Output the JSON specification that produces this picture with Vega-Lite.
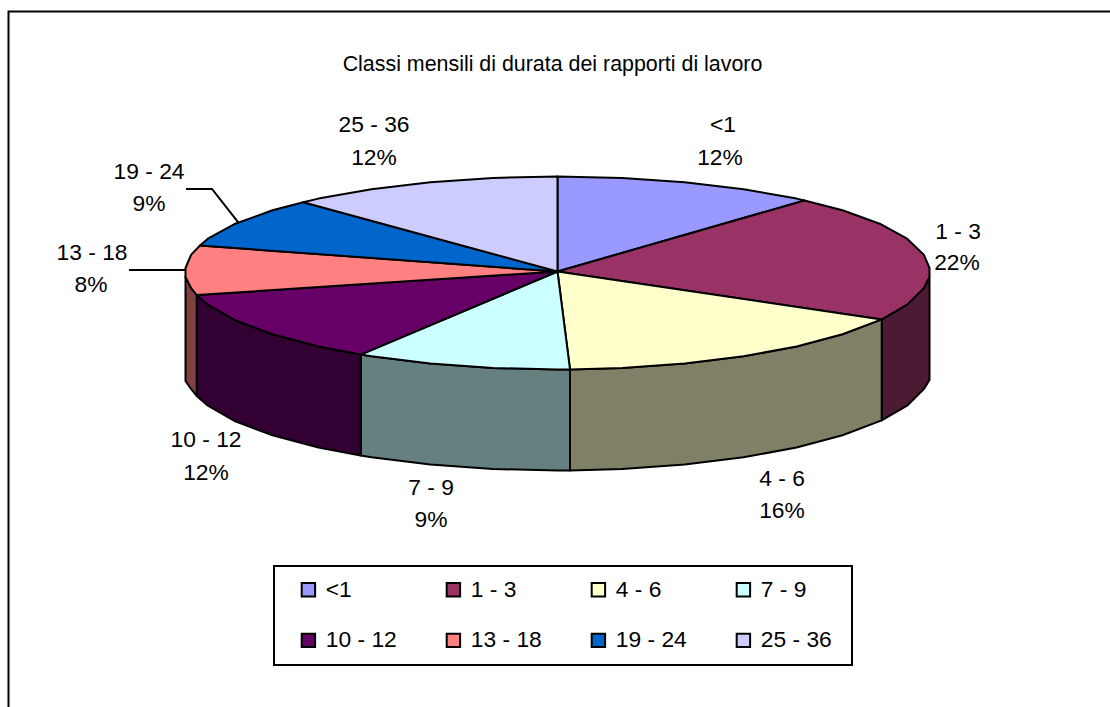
{
"$schema":"https://vega.github.io/schema/vega-lite/v6.json",
"width":1110,"height":707,"padding":0,
"autosize":{"type":"none"},
"background":"white",
"view":{"stroke":null},
"config":{"font":"Liberation Sans"},
"datasets":{
"tops":[
{"slice":"<1","seq":0,"x":557.5,"y":271.5},{"slice":"<1","seq":1,"x":557.5,"y":176.5},{"slice":"<1","seq":2,"x":622.1,"y":177.9},{"slice":"<1","seq":3,"x":684.7,"y":182.2},{"slice":"<1","seq":4,"x":743.5,"y":189.2},{"slice":"<1","seq":5,"x":796.6,"y":198.6},{"slice":"<1","seq":6,"x":804.5,"y":200.5},{"slice":"<1","seq":7,"x":557.5,"y":271.5},
{"slice":"1 - 3","seq":0,"x":557.5,"y":271.5},{"slice":"1 - 3","seq":1,"x":804.5,"y":200.5},{"slice":"1 - 3","seq":2,"x":842.5,"y":210.3},{"slice":"1 - 3","seq":3,"x":879.7,"y":223.7},{"slice":"1 - 3","seq":4,"x":907.1,"y":238.7},{"slice":"1 - 3","seq":5,"x":923.8,"y":254.6},{"slice":"1 - 3","seq":6,"x":929.5,"y":268},{"slice":"1 - 3","seq":7,"x":929.5,"y":277},{"slice":"1 - 3","seq":8,"x":923.8,"y":288.1},{"slice":"1 - 3","seq":9,"x":907.1,"y":304.7},{"slice":"1 - 3","seq":10,"x":881.7,"y":319.4},{"slice":"1 - 3","seq":11,"x":557.5,"y":271.5},
{"slice":"4 - 6","seq":0,"x":557.5,"y":271.5},{"slice":"4 - 6","seq":1,"x":881.7,"y":319.4},{"slice":"4 - 6","seq":2,"x":842.5,"y":334.3},{"slice":"4 - 6","seq":3,"x":796.6,"y":346.5},{"slice":"4 - 6","seq":4,"x":743.5,"y":356.3},{"slice":"4 - 6","seq":5,"x":684.7,"y":363.6},{"slice":"4 - 6","seq":6,"x":622.1,"y":368},{"slice":"4 - 6","seq":7,"x":570,"y":369.4},{"slice":"4 - 6","seq":8,"x":557.5,"y":271.5},
{"slice":"7 - 9","seq":0,"x":557.5,"y":271.5},{"slice":"7 - 9","seq":1,"x":570,"y":369.4},{"slice":"7 - 9","seq":2,"x":557.5,"y":369.5},{"slice":"7 - 9","seq":3,"x":492.9,"y":368},{"slice":"7 - 9","seq":4,"x":430.3,"y":363.6},{"slice":"7 - 9","seq":5,"x":371.5,"y":356.3},{"slice":"7 - 9","seq":6,"x":360.7,"y":354.6},{"slice":"7 - 9","seq":7,"x":557.5,"y":271.5},
{"slice":"10 - 12","seq":0,"x":557.5,"y":271.5},{"slice":"10 - 12","seq":1,"x":360.7,"y":354.6},{"slice":"10 - 12","seq":2,"x":318.4,"y":346.5},{"slice":"10 - 12","seq":3,"x":272.5,"y":334.3},{"slice":"10 - 12","seq":4,"x":235.3,"y":320.3},{"slice":"10 - 12","seq":5,"x":207.9,"y":304.7},{"slice":"10 - 12","seq":6,"x":196.7,"y":295},{"slice":"10 - 12","seq":7,"x":557.5,"y":271.5},
{"slice":"13 - 18","seq":0,"x":557.5,"y":271.5},{"slice":"13 - 18","seq":1,"x":196.7,"y":295},{"slice":"13 - 18","seq":2,"x":191.2,"y":288.1},{"slice":"13 - 18","seq":3,"x":185.5,"y":277},{"slice":"13 - 18","seq":4,"x":185.5,"y":268},{"slice":"13 - 18","seq":5,"x":191.2,"y":254.6},{"slice":"13 - 18","seq":6,"x":200,"y":245.5},{"slice":"13 - 18","seq":7,"x":557.5,"y":271.5},
{"slice":"19 - 24","seq":0,"x":557.5,"y":271.5},{"slice":"19 - 24","seq":1,"x":200,"y":245.5},{"slice":"19 - 24","seq":2,"x":207.9,"y":238.7},{"slice":"19 - 24","seq":3,"x":235.3,"y":223.7},{"slice":"19 - 24","seq":4,"x":272.5,"y":210.3},{"slice":"19 - 24","seq":5,"x":303.3,"y":202.3},{"slice":"19 - 24","seq":6,"x":557.5,"y":271.5},
{"slice":"25 - 36","seq":0,"x":557.5,"y":271.5},{"slice":"25 - 36","seq":1,"x":303.3,"y":202.3},{"slice":"25 - 36","seq":2,"x":318.4,"y":198.6},{"slice":"25 - 36","seq":3,"x":371.5,"y":189.2},{"slice":"25 - 36","seq":4,"x":430.3,"y":182.2},{"slice":"25 - 36","seq":5,"x":492.9,"y":177.9},{"slice":"25 - 36","seq":6,"x":557.5,"y":176.5},{"slice":"25 - 36","seq":7,"x":557.5,"y":271.5}
],
"sides":[
{"slice":"1 - 3","seq":0,"x":929.5,"y":277},{"slice":"1 - 3","seq":1,"x":923.8,"y":288.1},{"slice":"1 - 3","seq":2,"x":907.1,"y":304.7},{"slice":"1 - 3","seq":3,"x":881.7,"y":319.4},{"slice":"1 - 3","seq":4,"x":881.7,"y":420.4},{"slice":"1 - 3","seq":5,"x":907.1,"y":405.7},{"slice":"1 - 3","seq":6,"x":923.8,"y":389.1},{"slice":"1 - 3","seq":7,"x":929.5,"y":380},{"slice":"1 - 3","seq":8,"x":929.5,"y":277},
{"slice":"4 - 6","seq":0,"x":881.7,"y":319.4},{"slice":"4 - 6","seq":1,"x":842.5,"y":334.3},{"slice":"4 - 6","seq":2,"x":796.6,"y":346.5},{"slice":"4 - 6","seq":3,"x":743.5,"y":356.3},{"slice":"4 - 6","seq":4,"x":684.7,"y":363.6},{"slice":"4 - 6","seq":5,"x":622.1,"y":368},{"slice":"4 - 6","seq":6,"x":570,"y":369.4},{"slice":"4 - 6","seq":7,"x":570,"y":470.4},{"slice":"4 - 6","seq":8,"x":622.1,"y":469},{"slice":"4 - 6","seq":9,"x":684.7,"y":464.6},{"slice":"4 - 6","seq":10,"x":743.5,"y":457.3},{"slice":"4 - 6","seq":11,"x":796.6,"y":447.5},{"slice":"4 - 6","seq":12,"x":842.5,"y":435.3},{"slice":"4 - 6","seq":13,"x":881.7,"y":420.4},{"slice":"4 - 6","seq":14,"x":881.7,"y":319.4},
{"slice":"7 - 9","seq":0,"x":570,"y":369.4},{"slice":"7 - 9","seq":1,"x":557.5,"y":369.5},{"slice":"7 - 9","seq":2,"x":492.9,"y":368},{"slice":"7 - 9","seq":3,"x":430.3,"y":363.6},{"slice":"7 - 9","seq":4,"x":371.5,"y":356.3},{"slice":"7 - 9","seq":5,"x":360.7,"y":354.6},{"slice":"7 - 9","seq":6,"x":360.7,"y":455.6},{"slice":"7 - 9","seq":7,"x":371.5,"y":457.3},{"slice":"7 - 9","seq":8,"x":430.3,"y":464.6},{"slice":"7 - 9","seq":9,"x":492.9,"y":469},{"slice":"7 - 9","seq":10,"x":557.5,"y":470.5},{"slice":"7 - 9","seq":11,"x":570,"y":470.4},{"slice":"7 - 9","seq":12,"x":570,"y":369.4},
{"slice":"10 - 12","seq":0,"x":360.7,"y":354.6},{"slice":"10 - 12","seq":1,"x":318.4,"y":346.5},{"slice":"10 - 12","seq":2,"x":272.5,"y":334.3},{"slice":"10 - 12","seq":3,"x":235.3,"y":320.3},{"slice":"10 - 12","seq":4,"x":207.9,"y":304.7},{"slice":"10 - 12","seq":5,"x":196.7,"y":295},{"slice":"10 - 12","seq":6,"x":196.7,"y":396},{"slice":"10 - 12","seq":7,"x":207.9,"y":405.7},{"slice":"10 - 12","seq":8,"x":235.3,"y":421.3},{"slice":"10 - 12","seq":9,"x":272.5,"y":435.3},{"slice":"10 - 12","seq":10,"x":318.4,"y":447.5},{"slice":"10 - 12","seq":11,"x":360.7,"y":455.6},{"slice":"10 - 12","seq":12,"x":360.7,"y":354.6},
{"slice":"13 - 18","seq":0,"x":196.7,"y":295},{"slice":"13 - 18","seq":1,"x":191.2,"y":288.1},{"slice":"13 - 18","seq":2,"x":185.5,"y":277},{"slice":"13 - 18","seq":3,"x":185.5,"y":381},{"slice":"13 - 18","seq":4,"x":191.2,"y":389.1},{"slice":"13 - 18","seq":5,"x":196.7,"y":396},{"slice":"13 - 18","seq":6,"x":196.7,"y":295}
],
"labels":[
{"text":"Classi mensili di durata dei rapporti di lavoro","kind":"title","x":552.5,"y":65},
{"text":"<1","kind":"label","x":723,"y":125},{"text":"12%","kind":"label","x":720,"y":158},
{"text":"1 - 3","kind":"label","x":958,"y":232},{"text":"22%","kind":"label","x":957,"y":263},
{"text":"4 - 6","kind":"label","x":782,"y":479},{"text":"16%","kind":"label","x":782,"y":511},
{"text":"7 - 9","kind":"label","x":431,"y":488},{"text":"9%","kind":"label","x":431,"y":520},
{"text":"10 - 12","kind":"label","x":206,"y":440},{"text":"12%","kind":"label","x":206,"y":473},
{"text":"13 - 18","kind":"label","x":92,"y":253},{"text":"8%","kind":"label","x":91,"y":285},
{"text":"19 - 24","kind":"label","x":149,"y":172},{"text":"9%","kind":"label","x":149,"y":204},
{"text":"25 - 36","kind":"label","x":374,"y":125},{"text":"12%","kind":"label","x":374,"y":158}
],
"guides":[
{"name":"frame","seq":0,"x":8.5,"y":707},{"name":"frame","seq":1,"x":8.5,"y":11.5},{"name":"frame","seq":2,"x":1110,"y":11.5},
{"name":"leader 19 - 24","seq":0,"x":187,"y":189},{"name":"leader 19 - 24","seq":1,"x":212,"y":189},{"name":"leader 19 - 24","seq":2,"x":238,"y":222},
{"name":"leader 13 - 18","seq":0,"x":130,"y":270},{"name":"leader 13 - 18","seq":1,"x":186,"y":270},
{"name":"legend box","seq":0,"x":274,"y":566},{"name":"legend box","seq":1,"x":852,"y":566},{"name":"legend box","seq":2,"x":852,"y":665},{"name":"legend box","seq":3,"x":274,"y":665},{"name":"legend box","seq":4,"x":274,"y":566}
]
},
"layer":[
{"data":{"name":"guides"},
 "mark":{"type":"line","stroke":"black","strokeWidth":2,"strokeCap":"square"},
 "encoding":{"x":{"field":"x","type":"quantitative","scale":{"domain":[0,1110]},"axis":null},
 "y":{"field":"y","type":"quantitative","scale":{"domain":[707,0]},"axis":null},
 "detail":{"field":"name"},"order":{"field":"seq"}}},
{"data":{"name":"sides"},
 "mark":{"type":"line","stroke":"black","strokeWidth":2,"strokeJoin":"round"},
 "encoding":{"x":{"field":"x","type":"quantitative","scale":{"domain":[0,1110]},"axis":null},
 "y":{"field":"y","type":"quantitative","scale":{"domain":[707,0]},"axis":null},
 "order":{"field":"seq"},
 "fill":{"field":"slice","type":"nominal","legend":null,"scale":{"domain":["1 - 3","4 - 6","7 - 9","10 - 12","13 - 18"],"range":["#4D1A33","#808066","#668080","#330033","#804040"]}}}},
{"data":{"name":"tops"},
 "mark":{"type":"line","stroke":"black","strokeWidth":2,"strokeJoin":"round"},
 "encoding":{"x":{"field":"x","type":"quantitative","scale":{"domain":[0,1110]},"axis":null},
 "y":{"field":"y","type":"quantitative","scale":{"domain":[707,0]},"axis":null},
 "order":{"field":"seq"},
 "fill":{"field":"slice","type":"nominal","sort":null,
  "scale":{"domain":["<1","1 - 3","4 - 6","7 - 9","10 - 12","13 - 18","19 - 24","25 - 36"],"range":["#9999FF","#993366","#FFFFCC","#CCFFFF","#660066","#FF8080","#0066CC","#CCCCFF"]},
  "legend":{"title":null,"orient":"none","legendX":297,"legendY":578,"columns":4,"direction":"horizontal","symbolType":"square","symbolSize":180,"symbolStrokeColor":"black","symbolStrokeWidth":2,"labelFontSize":22.8,"labelColor":"black","labelFont":"Liberation Sans","labelOffset":6,"columnPadding":45,"rowPadding":27,"padding":0}}}},
{"data":{"name":"labels"},
 "mark":{"type":"text","align":"center","baseline":"middle","color":"black"},
 "encoding":{"x":{"field":"x","type":"quantitative","scale":{"domain":[0,1110]},"axis":null},
 "y":{"field":"y","type":"quantitative","scale":{"domain":[707,0]},"axis":null},
 "text":{"field":"text","type":"nominal"},
 "size":{"field":"kind","type":"nominal","legend":null,"scale":{"domain":["title","label"],"range":[21.4,22.8]}}}}
],
"resolve":{"scale":{"fill":"independent"},"legend":{"fill":"independent"}}
}
